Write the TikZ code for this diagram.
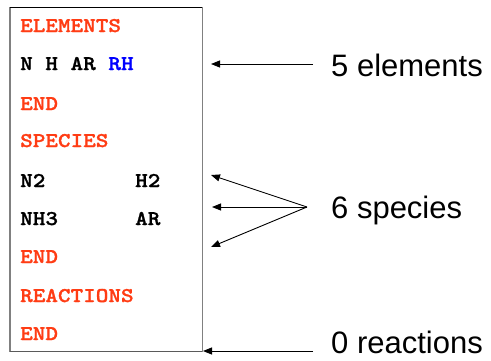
\documentclass[tikz,border=0pt]{standalone}
\usepackage{fontspec}
\setmainfont{Liberation Sans}
\newfontfamily\codefont[Extension=.otf,FakeStretch=1.143,FakeBold=1.2]{lmmonolt10-bold}
\usetikzlibrary{arrows.meta}
\definecolor{kwred}{RGB}{255,60,20}
\definecolor{kwblue}{RGB}{0,0,255}
\definecolor{boxgray}{RGB}{128,128,128}
\definecolor{boxdark}{RGB}{90,90,90}
\begin{document}
\begin{tikzpicture}[x=1pt,y=-1pt,
  code/.style={anchor=base west,inner sep=0pt,font=\codefont\fontsize{21}{21}\selectfont},
  kw/.style={code,text=kwred},
  lbl/.style={anchor=base west,inner sep=0pt,font=\fontsize{31}{31}\selectfont},
  arr/.style={line width=0.9pt,-{Triangle[length=9pt,width=7pt]}}]
\useasboundingbox (0,0) rectangle (491,360);
% box
\draw[boxgray,line width=1.5pt] (10,7.3) -- (10,351.7);
\draw[boxgray,line width=1.5pt] (202.3,7.3) -- (202.3,351.7);
\draw[black,line width=1.5pt] (10,7.3) -- (202.3,7.3);
\draw[boxdark,line width=1.5pt] (10,351.7) -- (202.3,351.7);
% code lines
\node[kw] (elements) at (20,32) {ELEMENTS};
\node[code] (elist) at (20,70) {N H AR \textcolor{kwblue}{RH}};
\node[kw] (end1) at (20,110) {END};
\node[kw] (species) at (20,147) {SPECIES};
\node[code] (n2) at (20,187) {N2};
\node[code] (h2) at (135,187) {H2};
\node[code] (nh3) at (20,225) {NH3};
\node[code] (ar) at (135,225) {AR};
\node[kw] (end2) at (20,263) {END};
\node[kw] (reactions) at (20,302) {REACTIONS};
\node[kw] (end3) at (20,340) {END};
% labels
\node[lbl] (l5) at (331,76.7) {5 elements};
\node[lbl] (l6) at (331,218) {6 species};
\node[lbl] (l0) at (331,353) {0 reactions};
% arrow endpoints
\coordinate (e5s) at (313,64);
\coordinate (e5t) at (211,64);
\coordinate (s6) at (307,207);
\coordinate (s6a) at (211,175);
\coordinate (s6b) at (212,207);
\coordinate (s6c) at (211,247);
\coordinate (r0s) at (313,351);
\coordinate (r0t) at (203,351);
\draw[arr] (e5s) -- (e5t);
\draw[arr] (s6) -- (s6a);
\draw[arr] (s6) -- (s6b);
\draw[arr] (s6) -- (s6c);
\draw[arr] (r0s) -- (r0t);
\end{tikzpicture}
\end{document}
